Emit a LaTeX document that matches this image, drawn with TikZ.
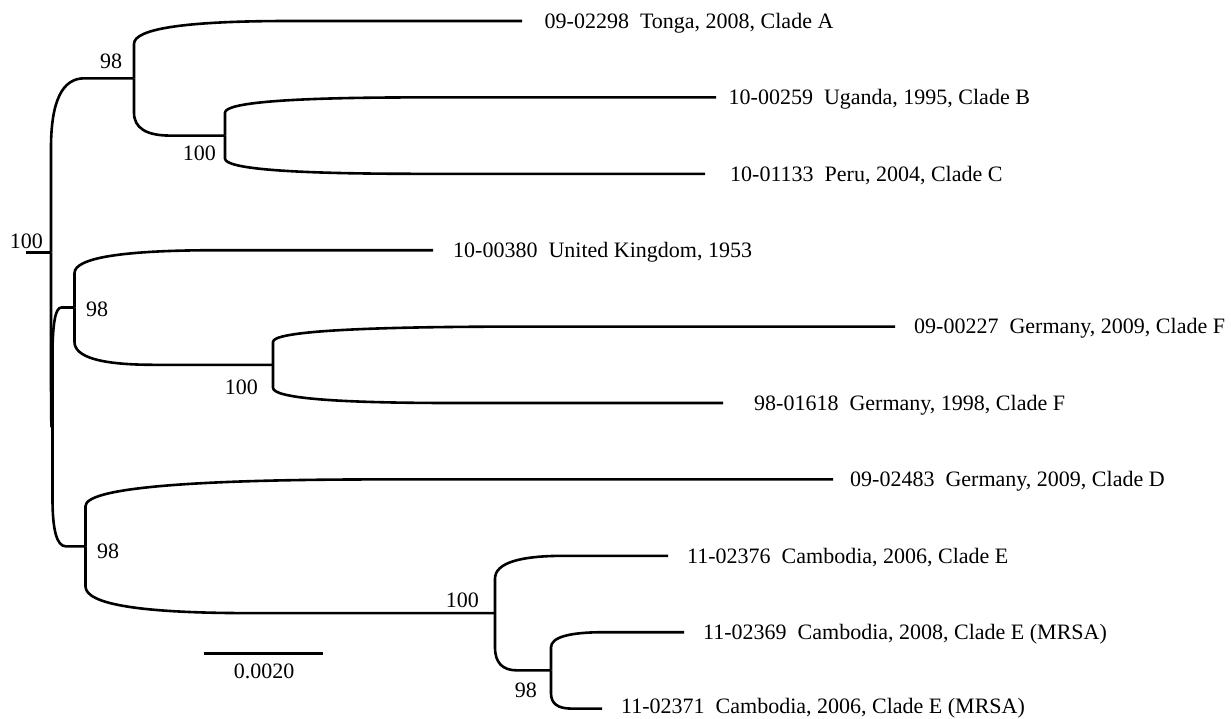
\documentclass[tikz,border=0pt]{standalone}
\usepackage{fontspec}
\setmainfont{Liberation Serif}
\usetikzlibrary{calc}
\tikzset{
  branch/.style={line width=2.6pt, line join=round, black},
  tiplabel/.style={anchor=base west, inner sep=0pt, font=\fontsize{22}{24}\selectfont},
  bootE/.style={anchor=base east, inner sep=0pt, font=\fontsize{22}{24}\selectfont},
  bootW/.style={anchor=base west, inner sep=0pt, font=\fontsize{22}{24}\selectfont},
  scalelabel/.style={anchor=base, inner sep=0pt, font=\fontsize{22}{24}\selectfont}
}
\newcommand{\treebranch}[2]{%
  \draw[branch] let \p1=(#1), \p2=(#2) in
    (\p1) -- (\x1,{\y1+0.6*(\y2-\y1)})
    .. controls (\x1,{\y1+0.8667*(\y2-\y1)}) and ({\x1+0.1333*(\x2-\x1)},\y2)
    .. ({\x1+0.4*(\x2-\x1)},\y2) -- (\p2);}
\newcommand{\gap}{\hspace{0.5em}}
\begin{document}
\begin{tikzpicture}[x=1pt,y=-1pt]
\fill[white] (0,0) rectangle (1231,718);
\useasboundingbox (0,0) rectangle (1231,718);
% internal nodes
\coordinate (rs) at (26,252.6);
\coordinate (R) at (51,252.6);
\coordinate (AB) at (134,78.3);
\coordinate (BC) at (225,135.6);
\coordinate (X) at (52.5,426.9);
\coordinate (UKF) at (74.5,307.5);
\coordinate (F) at (273,364.8);
\coordinate (DE) at (85.5,546.3);
\coordinate (E) at (495,613.1);
\coordinate (E23) at (551,670.4);
% tips
\coordinate (tA) at (522,21);
\coordinate (tB) at (716,97.4);
\coordinate (tC) at (705,173.8);
\coordinate (tUK) at (433,250.2);
\coordinate (tF1) at (895,326.6);
\coordinate (tF2) at (723,403);
\coordinate (tD) at (833,479.4);
\coordinate (tE1) at (668,555.8);
\coordinate (tE2) at (684,632.2);
\coordinate (tE3) at (602,708.6);
% branches
\draw[branch] (rs) -- (R);
\treebranch{R}{AB}
\treebranch{R}{X}
\treebranch{AB}{tA}
\treebranch{AB}{BC}
\treebranch{BC}{tB}
\treebranch{BC}{tC}
\treebranch{X}{UKF}
\treebranch{X}{DE}
\treebranch{UKF}{tUK}
\treebranch{UKF}{F}
\treebranch{F}{tF1}
\treebranch{F}{tF2}
\treebranch{DE}{tD}
\treebranch{DE}{E}
\treebranch{E}{tE1}
\treebranch{E}{E23}
\treebranch{E23}{tE2}
\treebranch{E23}{tE3}
% tip labels
\node[tiplabel] (lA) at (544.5,28.3) {09-02298\gap Tonga, 2008, Clade A};
\node[tiplabel] (lB) at (728.5,104.7) {10-00259\gap Uganda, 1995, Clade B};
\node[tiplabel] (lC) at (730,181.1) {10-01133\gap Peru, 2004, Clade C};
\node[tiplabel] (lUK) at (453,257.5) {10-00380\gap United Kingdom, 1953};
\node[tiplabel] (lF1) at (914,333.9) {09-00227\gap Germany, 2009, Clade F};
\node[tiplabel] (lF2) at (754,410.3) {98-01618\gap Germany, 1998, Clade F};
\node[tiplabel] (lD) at (850,486.7) {09-02483\gap Germany, 2009, Clade D};
\node[tiplabel] (lE1) at (687,563.1) {11-02376\gap Cambodia, 2006, Clade E};
\node[tiplabel] (lE2) at (703,639.5) {11-02369\gap Cambodia, 2008, Clade E (MRSA)};
\node[tiplabel] (lE3) at (621,713.2) {11-02371\gap Cambodia, 2006, Clade E (MRSA)};
% bootstrap values
\node[bootE] (bR) at (43,248) {100};
\node[bootW] (bAB) at (100,68) {98};
\node[bootE] (bBC) at (216,160) {100};
\node[bootW] (bUKF) at (86,316.7) {98};
\node[bootE] (bF) at (258,394) {100};
\node[bootW] (bDE) at (97,558) {98};
\node[bootE] (bE) at (479,607) {100};
\node[bootE] (bE23) at (537,697) {98};
% scale bar
\coordinate (s1) at (204,653.7);
\coordinate (s2) at (323,653.7);
\draw[branch] (s1) -- (s2);
\node[scalelabel] (sl) at (264,678) {0.0020};
\end{tikzpicture}
\end{document}
